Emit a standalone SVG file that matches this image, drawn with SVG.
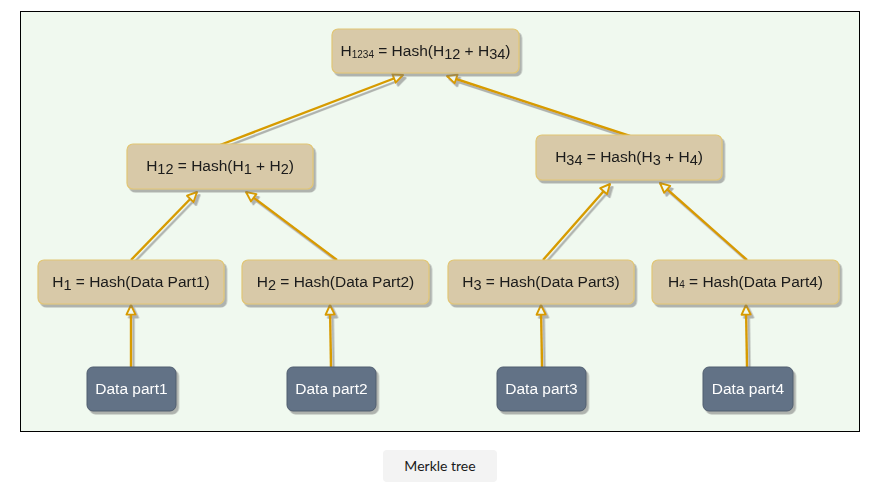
<svg xmlns="http://www.w3.org/2000/svg" width="884" height="489" viewBox="0 0 884 489">
<style>
.hash{fill:#d8c9a8;stroke:#e2c675;stroke-width:1.2}
.data{fill:#627286;stroke:#4f5d6e;stroke-width:1}
.t{font-family:"Liberation Sans",Arial,sans-serif;font-size:15.5px;fill:#1a1a1a;text-anchor:middle}
.w{fill:#ffffff}
.s{font-size:10px}
.b{font-size:14.5px}
.e{fill:none;stroke:#d79b00;stroke-width:2.4;marker-end:url(#ah)}
</style>
<defs>
<filter id="sh" x="-10%" y="-20%" width="130%" height="150%">
<feDropShadow dx="2.5" dy="3" stdDeviation="0.6" flood-color="#7a7a7a" flood-opacity="0.55"/>
</filter>
<marker id="ah" viewBox="0 0 10 10" refX="9" refY="5" markerWidth="12" markerHeight="12" markerUnits="userSpaceOnUse" orient="auto">
<path d="M1,1.2 L9,5 L1,8.8 z" fill="#f0f9ef" stroke="#d79b00" stroke-width="1.6" stroke-linejoin="round"/>
</marker>
</defs>
<rect x="0" y="0" width="884" height="489" fill="#ffffff"/>
<rect x="20.5" y="11.5" width="839" height="420" fill="#f0f9ef" stroke="#000000" stroke-width="1"/>
<g id="connectors" filter="url(#sh)">
<path class="e" d="M131,367 L131,305"/>
<path class="e" d="M331,367 L330,305"/>
<path class="e" d="M542,367 L541,305"/>
<path class="e" d="M747,367 L746,305"/>
<path class="e" d="M131,260 L197,192"/>
<path class="e" d="M337,260 L246,192"/>
<path class="e" d="M543,260 L610,184"/>
<path class="e" d="M747,260 L660,183"/>
<path class="e" d="M220,145 L403,75"/>
<path class="e" d="M630,136 L447,76"/>
</g>
<g id="n-h1234" filter="url(#sh)">
<rect class="hash" x="332" y="29" width="187" height="44" rx="6"/>
<text class="t" x="425.5" y="56">H<tspan class="s" dy="1.5">1234</tspan><tspan dy="-1.5"> = Hash(H</tspan><tspan class="b" dy="3">12</tspan><tspan dy="-3"> + H</tspan><tspan class="b" dy="3">34</tspan><tspan dy="-3">)</tspan></text>
</g>
<g id="n-h12" filter="url(#sh)">
<rect class="hash" x="127" y="144" width="186" height="45" rx="6"/>
<text class="t" x="220" y="171">H<tspan class="b" dy="3">12</tspan><tspan dy="-3"> = Hash(H</tspan><tspan class="b" dy="3">1</tspan><tspan dy="-3"> + H</tspan><tspan class="b" dy="3">2</tspan><tspan dy="-3">)</tspan></text>
</g>
<g id="n-h34" filter="url(#sh)">
<rect class="hash" x="536" y="135" width="186" height="45" rx="6"/>
<text class="t" x="629" y="162">H<tspan class="b" dy="3">34</tspan><tspan dy="-3"> = Hash(H</tspan><tspan class="b" dy="3">3</tspan><tspan dy="-3"> + H</tspan><tspan class="b" dy="3">4</tspan><tspan dy="-3">)</tspan></text>
</g>
<g id="n-h1" filter="url(#sh)">
<rect class="hash" x="38" y="260" width="186" height="44" rx="6"/>
<text class="t" x="131" y="287">H<tspan class="b" dy="3">1</tspan><tspan dy="-3"> = Hash(Data Part1)</tspan></text>
</g>
<g id="n-h2" filter="url(#sh)">
<rect class="hash" x="242" y="260" width="187" height="44" rx="6"/>
<text class="t" x="335.5" y="287">H<tspan class="b" dy="3">2</tspan><tspan dy="-3"> = Hash(Data Part2)</tspan></text>
</g>
<g id="n-h3" filter="url(#sh)">
<rect class="hash" x="448" y="260" width="186" height="44" rx="6"/>
<text class="t" x="541" y="287">H<tspan class="b" dy="3">3</tspan><tspan dy="-3"> = Hash(Data Part3)</tspan></text>
</g>
<g id="n-h4" filter="url(#sh)">
<rect class="hash" x="652" y="260" width="187" height="44" rx="6"/>
<text class="t" x="745.5" y="287">H<tspan class="s" dy="1">4</tspan><tspan dy="-1"> = Hash(Data Part4)</tspan></text>
</g>
<g id="n-d1" filter="url(#sh)">
<rect class="data" x="87" y="367" width="89" height="44" rx="6"/>
<text class="t w" x="131.5" y="394">Data part1</text>
</g>
<g id="n-d2" filter="url(#sh)">
<rect class="data" x="287" y="367" width="89" height="44" rx="6"/>
<text class="t w" x="331.5" y="394">Data part2</text>
</g>
<g id="n-d3" filter="url(#sh)">
<rect class="data" x="497" y="367" width="89" height="44" rx="6"/>
<text class="t w" x="541.5" y="394">Data part3</text>
</g>
<g id="n-d4" filter="url(#sh)">
<rect class="data" x="703" y="367" width="90" height="44" rx="6"/>
<text class="t w" x="748" y="394">Data part4</text>
</g>
<g id="caption">
<rect x="383" y="450" width="114" height="32" rx="4" fill="#f3f3f3"/>
<text x="440" y="471" font-family="Lato,'Liberation Sans',sans-serif" font-size="14" fill="#1a1a1a" text-anchor="middle">Merkle tree</text>
</g>
</svg>
